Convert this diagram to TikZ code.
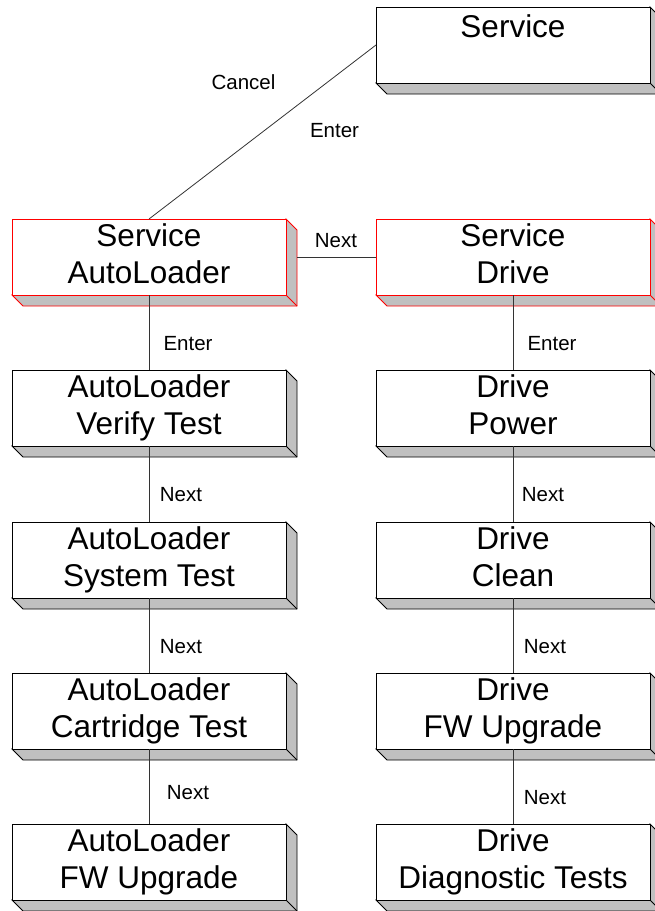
\documentclass[tikz,border=0pt]{standalone}
\usepackage{fontspec}
\setmainfont{Liberation Sans}
\definecolor{boxgray}{HTML}{C0C0C0}
\definecolor{linegray}{HTML}{333333}
\newcommand{\boxfont}{\fontsize{31.5}{37}\selectfont}
\newcommand{\lblfont}{\fontsize{20.5}{24}\selectfont}
% name, x, y(top), colour, line1, line2
\newcommand{\tdbox}[6]{%
  \filldraw[draw=#4, fill=boxgray, line width=0.8pt, line join=miter]
    (#2+274,#3) -- (#2+285,#3+11) -- (#2+285,#3+87) -- (#2+11,#3+87) -- (#2,#3+76) -- (#2+274,#3+76) -- cycle;
  \draw[draw=#4, line width=0.8pt] (#2+274,#3+76) -- (#2+285,#3+87);
  \node[facebox, draw=#4] (#1) at (#2,#3) {};
  \node[boxtext] (#1a) at (#2+137,#3+27) {#5};
  \node[boxtext] (#1b) at (#2+137,#3+64) {#6};
}
\tikzset{
  facebox/.style={rectangle, fill=white, line width=0.8pt, minimum width=274pt, minimum height=76pt, anchor=north west, inner sep=0pt, outer sep=0pt},
  boxtext/.style={anchor=base, inner sep=0pt, font=\boxfont},
  lbl/.style={anchor=base, inner sep=0pt, font=\lblfont},
  conn/.style={draw=linegray, line width=0.8pt}
}
\begin{document}
\begin{tikzpicture}[x=1pt, y=-1pt]
\useasboundingbox (0,0) rectangle (654,911);
% top Service box
\filldraw[draw=black, fill=boxgray, line width=0.8pt]
  (650,7) -- (661,18) -- (661,94) -- (387,94) -- (376,83) -- (650,83) -- cycle;
\draw[line width=0.8pt] (650,83) -- (661,94);
\node[facebox, draw=black] (srv) at (376,7) {};
\node[boxtext] (srva) at (513,37) {Service};
% boxes
\tdbox{sal}{12}{219}{red}{Service}{AutoLoader}
\tdbox{sdr}{376}{219}{red}{Service}{Drive}
\tdbox{av}{12}{370}{black}{AutoLoader}{Verify Test}
\tdbox{as}{12}{522}{black}{AutoLoader}{System Test}
\tdbox{ac}{12}{673}{black}{AutoLoader}{Cartridge Test}
\tdbox{af}{12}{824}{black}{AutoLoader}{FW Upgrade}
\tdbox{dp}{376}{370}{black}{Drive}{Power}
\tdbox{dc}{376}{522}{black}{Drive}{Clean}
\tdbox{df}{376}{673}{black}{Drive}{FW Upgrade}
\tdbox{dd}{376}{824}{black}{Drive}{Diagnostic Tests}
% connectors
\draw[conn] (srv.west) -- (sal.north);
\draw[conn] ([xshift=11pt]sal.east) -- (sdr.west);
\draw[conn] (sal.south) -- (av.north);
\draw[conn] (av.south) -- (as.north);
\draw[conn] (as.south) -- (ac.north);
\draw[conn] (ac.south) -- (af.north);
\draw[conn] (sdr.south) -- (dp.north);
\draw[conn] (dp.south) -- (dc.north);
\draw[conn] (dc.south) -- (df.north);
\draw[conn] (df.south) -- (dd.north);
% labels
\node[lbl] (lcancel) at (243.5,89) {Cancel};
\node[lbl] (lenter0) at (334.5,137) {Enter};
\node[lbl] (lnext0) at (336,247) {Next};
\node[lbl] (lenter1) at (188,350) {Enter};
\node[lbl] (lenter2) at (552,350) {Enter};
\node[lbl] (lnext1) at (181,501) {Next};
\node[lbl] (lnext2) at (543,501) {Next};
\node[lbl] (lnext3) at (181,653) {Next};
\node[lbl] (lnext4) at (545,653) {Next};
\node[lbl] (lnext5) at (188,799) {Next};
\node[lbl] (lnext6) at (545,804) {Next};
\end{tikzpicture}
\end{document}
